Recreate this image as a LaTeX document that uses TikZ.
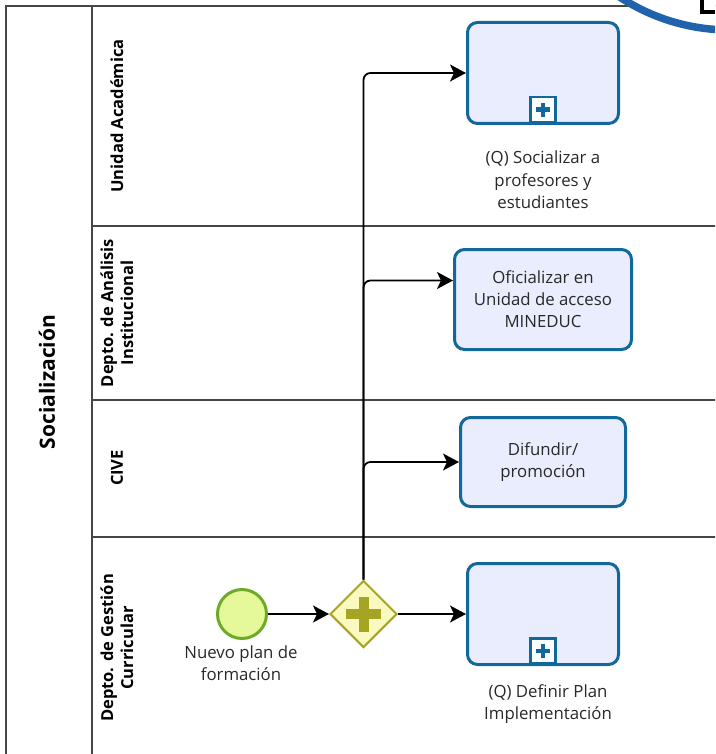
\documentclass[tikz,border=0pt]{standalone}
\usepackage{fontspec}
\setmainfont{Open Sans}
\usetikzlibrary{arrows.meta,shapes.geometric}

\definecolor{taskline}{RGB}{18,104,154}
\definecolor{taskfill}{RGB}{233,237,253}
\definecolor{startfill}{RGB}{229,249,154}
\definecolor{startline}{RGB}{110,170,40}
\definecolor{gwfill}{RGB}{250,250,192}
\definecolor{gwline}{RGB}{165,165,35}
\definecolor{txt}{RGB}{40,40,40}
\definecolor{poolline}{RGB}{70,70,70}
\definecolor{ringblue}{RGB}{33,98,172}

\tikzset{
  pool/.style={draw=poolline, line width=1.6pt},
  lanelabel/.style={rotate=90, font=\bfseries\fontsize{16.5}{20}\selectfont, text=black, align=center, inner sep=0pt},
  task/.style={draw=taskline, fill=taskfill, line width=3pt, rounded corners=10pt,
    text=txt, align=center, font=\fontsize{16.8}{22}\selectfont},
  submarker/.style={draw=taskline, fill=white, line width=2.5pt, minimum size=25pt, inner sep=0pt},
  caption/.style={text=txt, align=center, font=\fontsize{16.8}{22.5}\selectfont, inner sep=0pt},
  startev/.style={circle, draw=startline, fill=startfill, line width=3pt, minimum size=49pt, inner sep=0pt},
  gateway/.style={diamond, draw=gwline, fill=gwfill, line width=2pt, minimum width=67pt, minimum height=67pt, inner sep=0pt},
  flow/.style={draw=black, line width=1.8pt, -{Stealth[length=16pt, width=17pt, inset=4pt]}},
}

\newcommand{\subplus}[1]{%
  \draw[taskline, line width=4.5pt] ([xshift=-7pt]#1.center) -- ([xshift=7pt]#1.center);
  \draw[taskline, line width=4.5pt] ([yshift=-7pt]#1.center) -- ([yshift=7pt]#1.center);
}

\begin{document}
\begin{tikzpicture}[x=1pt, y=-1pt]
\useasboundingbox (0,0) rectangle (715,754);
\begin{scope}
\clip (0,0) rectangle (715,754);

% pool frame and lanes
\draw[pool] (6,800) -- (6,6) -- (800,6);
\draw[pool] (92,6) -- (92,800);
\draw[pool, line width=1.3pt] (92,226) -- (800,226);
\draw[pool, line width=1.3pt] (92,400) -- (800,400);
\draw[pool, line width=1.3pt] (92,537) -- (800,537);

% pool and lane headers
\node[rotate=90, font=\bfseries\fontsize{21}{25}\selectfont, text=black, inner sep=0pt] (poolname) at (47,382) {Socialización};
\node[lanelabel] (laneA) at (117,116) {Unidad Académica};
\node[lanelabel] (laneB) at (117,313) {Depto. de Análisis\\Institucional};
\node[lanelabel] (laneC) at (117,468) {CIVE};
\node[lanelabel] (laneD) at (117,648) {Depto. de Gestión\\Curricular};

% tasks
\node[task, minimum width=151pt, minimum height=101pt] (tA) at (543,73) {};
\node[task, minimum width=177pt, minimum height=100pt] (tB) at (543,299.5) {Oficializar en\\Unidad de acceso\\MINEDUC};
\node[task, minimum width=165pt, minimum height=89pt] (tC) at (543,462) {Difundir/\\promoción};
\node[task, minimum width=151pt, minimum height=101pt] (tD) at (543,614) {};

% collapsed sub-process markers
\node[submarker, anchor=south] (mA) at ([yshift=1.5pt]tA.south) {};
\subplus{mA}
\node[submarker, anchor=south] (mD) at ([yshift=1.5pt]tD.south) {};
\subplus{mD}

% task captions
\node[caption] (capA) at (543,180) {(Q) Socializar a\\profesores y\\estudiantes};
\node[caption] (capD) at (548,704) {(Q) Definir Plan\\Implementación};

% start event and gateway
\node[startev] (start) at (242,614) {};
\node[caption] (capS) at (241,663) {Nuevo plan de\\formación};
\node[gateway] (gw) at (363.5,614) {};
\draw[gwline, line width=10pt] ([xshift=-17.5pt]gw.center) -- ([xshift=17.5pt]gw.center);
\draw[gwline, line width=10pt] ([yshift=-17.5pt]gw.center) -- ([yshift=17.5pt]gw.center);

% sequence flows
\draw[flow] (start) -- (gw);
\draw[flow] (gw) -- (tD);
\draw[flow, rounded corners=7pt] (gw.north) |- (tA.west);
\draw[flow, rounded corners=7pt] (gw.north) |- ([yshift=19pt]tB.west);
\draw[flow, rounded corners=7pt] (gw.north) |- (tC.west);

% overlapping ring in the corner
\draw[ringblue, fill=white, line width=7.5pt] (730,-171) circle[radius=201];
\draw[black, line width=4pt] (702,0) -- (702,12) -- (715,12);
\end{scope}
\end{tikzpicture}
\end{document}
